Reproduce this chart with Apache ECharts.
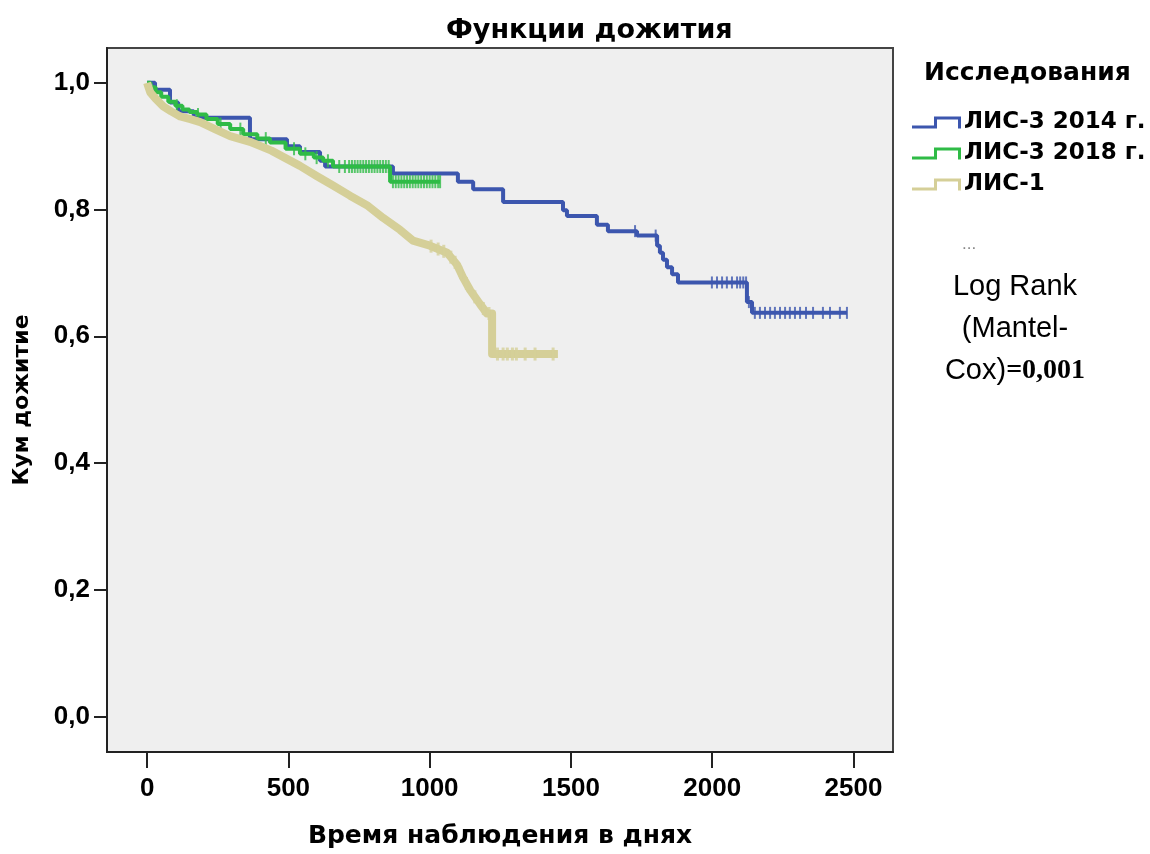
<!DOCTYPE html>
<html>
<head>
<meta charset="utf-8">
<script src="https://cdn.jsdelivr.net/npm/echarts@6/dist/echarts.min.js"></script>
<style>
  html, body { margin: 0; padding: 0; background: #fff; }
  #chart { width: 1150px; height: 854px; }
</style>
</head>
<body>
<div id="chart"></div>
<script>
    // Функции дожития (Каплан-Мейер)
    var xTicks = [0, 500, 1000, 1500, 2000, 2500];
    var yTicks = [0, 0.2, 0.4, 0.6, 0.8, 1.0];

    // ЛИС-3 2014 г. - ступени (день, доля)
    var blueT = [0, 28, 81, 110, 165, 364, 495, 541, 612, 630, 870, 1100, 1154, 1260, 1472, 1486, 1592, 1631, 1734, 1805, 1815, 1826, 1840, 1858, 1879, 2123, 2141, 2477];
    var blueS = [1.0, 0.989, 0.969, 0.955, 0.945, 0.911, 0.900, 0.891, 0.877, 0.868, 0.857, 0.844, 0.832, 0.812, 0.799, 0.790, 0.776, 0.766, 0.759, 0.743, 0.732, 0.721, 0.709, 0.698, 0.685, 0.654, 0.637, 0.637];
    var blueCens = [1727, 1800, 1999, 2017, 2035, 2052, 2070, 2088, 2099, 2110, 2120, 2130, 2151, 2169, 2187, 2205, 2222, 2240, 2258, 2275, 2293, 2311, 2332, 2357, 2392, 2417, 2452, 2477];

    // ЛИС-3 2018 г.
    var greenT = [0, 12, 30, 50, 75, 100, 125, 150, 177, 210, 250, 294, 340, 390, 435, 490, 541, 590, 623, 658, 860, 1037];
    var greenS = [1.0, 0.993, 0.985, 0.978, 0.970, 0.964, 0.958, 0.954, 0.950, 0.943, 0.935, 0.927, 0.919, 0.912, 0.906, 0.896, 0.888, 0.882, 0.877, 0.868, 0.844, 0.844];
    var greenCens = [105, 180, 260, 330, 420, 520, 560, 600, 640, 680, 700, 715, 725, 735, 745, 755, 765, 775, 785, 795, 805, 815, 825, 835, 845, 855, 870, 880, 890, 900, 910, 920, 930, 940, 950, 960, 970, 980, 990, 1000, 1010, 1020, 1030, 1037];

    // ЛИС-1 (очень частые ступени - ведём по точкам)
    var tanT = [0, 5, 11, 30, 57, 85, 117, 150, 188, 240, 294, 364, 440, 541, 600, 658, 718, 778, 835, 895, 941, 1001, 1062, 1097, 1118, 1143, 1178, 1203, 1221, 1221, 1454];
    var tanS = [1.0, 0.993, 0.985, 0.975, 0.963, 0.955, 0.947, 0.943, 0.938, 0.927, 0.916, 0.907, 0.893, 0.869, 0.853, 0.838, 0.822, 0.807, 0.787, 0.768, 0.751, 0.743, 0.732, 0.713, 0.693, 0.673, 0.651, 0.636, 0.636, 0.572, 0.572];
    var tanCens = [1005, 1030, 1050, 1075, 1090, 1110, 1130, 1160, 1190, 1210, 1240, 1260, 1275, 1293, 1307, 1338, 1373, 1437];

    var names = ['ЛИС-3 2014 г.', 'ЛИС-3 2018 г.', 'ЛИС-1'];
    var colors = ['#3c56ae', '#2fbb46', '#d5cf98'];

    function pairs(t, s) {
        var out = [];
        for (var i = 0; i < t.length; i++) out.push([t[i], s[i]]);
        return out;
    }
    // значение ступенчатой функции в момент цензуры
    function stepAt(t, s, x) {
        var v = s[0];
        for (var i = 0; i < t.length; i++) { if (t[i] <= x) v = s[i]; }
        return v;
    }
    function lineAt(t, s, x) {
        for (var i = 1; i < t.length; i++) {
            if (x <= t[i] && t[i] > t[i - 1]) {
                var k = (x - t[i - 1]) / (t[i] - t[i - 1]);
                return s[i - 1] + k * (s[i] - s[i - 1]);
            }
        }
        return s[s.length - 1];
    }
    function cens(t, s, c, fn) {
        var out = [];
        for (var i = 0; i < c.length; i++) out.push([c[i], fn(t, s, c[i])]);
        return out;
    }

    var font = "'Liberation Sans', Arial, sans-serif";
    var wide = "'DejaVu Sans', 'Liberation Sans', sans-serif";
    var stepIcon = 'path://M0,9 L22,9 L22,0 L49,0 L49,12 L46,12 L46,3 L25,3 L25,12 L0,12 Z';

    var myChart = echarts.init(document.getElementById('chart'));
    var option = {
        backgroundColor: '#fff',
        animation: false,
        title: {
            text: 'Функции дожития',
            left: 441,
            top: 12,
            textStyle: { fontFamily: wide, fontSize: 27, fontWeight: 'bold', color: '#000' }
        },
        legend: {
            orient: 'vertical',
            left: 907,
            top: 106,
            itemWidth: 49,
            itemHeight: 12,
            itemGap: 8,
            icon: stepIcon,
            data: names,
            textStyle: { fontFamily: wide, fontSize: 23, fontWeight: 'bold', color: '#000', padding: [0, 0, 0, -2] }
        },
        grid: {
            left: 107, right: 257, top: 48, bottom: 93,
            show: true,
            backgroundColor: '#efefef',
            borderColor: '#444',
            borderWidth: 2
        },
        xAxis: {
            type: 'value',
            min: -142,
            max: 2640,
            name: 'Время наблюдения в днях',
            nameLocation: 'middle',
            nameGap: 72,
            nameTextStyle: { fontFamily: wide, fontSize: 25, fontWeight: 'bold', color: '#000' },
            axisLine: { onZero: false, lineStyle: { color: '#222', width: 2 } },
            axisTick: { customValues: xTicks, length: 16, lineStyle: { color: '#222', width: 2 } },
            axisLabel: {
                customValues: xTicks, margin: 24,
                fontFamily: font, fontSize: 26, fontWeight: 'bold', color: '#000',
                formatter: function (v) { return String(v); }
            },
            splitLine: { show: false }
        },
        yAxis: {
            type: 'value',
            min: -0.056,
            max: 1.055,
            name: 'Кум дожитие',
            nameLocation: 'middle',
            nameGap: 74,
            nameTextStyle: { fontFamily: wide, fontSize: 22, fontWeight: 'bold', color: '#000' },
            axisLine: { onZero: false, lineStyle: { color: '#222', width: 2 } },
            axisTick: { customValues: yTicks, length: 13, lineStyle: { color: '#222', width: 2 } },
            axisLabel: {
                customValues: yTicks, margin: 17,
                fontFamily: font, fontSize: 26, fontWeight: 'bold', color: '#000',
                formatter: function (v) { return v.toFixed(1).replace('.', ','); }
            },
            splitLine: { show: false }
        },
        series: [
            {
                name: names[0], type: 'line', step: 'end', showSymbol: false,
                data: pairs(blueT, blueS), color: colors[0],
                lineStyle: { width: 4, color: colors[0] }, z: 2
            },
            {
                name: names[0], type: 'scatter', symbol: 'rect', symbolSize: [2, 12],
                data: cens(blueT, blueS, blueCens, stepAt),
                itemStyle: { color: colors[0] }, z: 2
            },
            {
                name: names[1], type: 'line', step: 'end', showSymbol: false,
                data: pairs(greenT, greenS), color: colors[1],
                lineStyle: { width: 4, color: colors[1] }, z: 3
            },
            {
                name: names[1], type: 'scatter', symbol: 'rect', symbolSize: [2, 13],
                data: cens(greenT, greenS, greenCens, stepAt),
                itemStyle: { color: colors[1] }, z: 3
            },
            {
                name: names[2], type: 'line', showSymbol: false,
                data: pairs(tanT, tanS), color: colors[2],
                lineStyle: { width: 8, color: colors[2], join: 'round' }, z: 4
            },
            {
                name: names[2], type: 'scatter', symbol: 'rect', symbolSize: [3, 13],
                data: cens(tanT, tanS, tanCens, lineAt),
                itemStyle: { color: colors[2] }, z: 4
            }
        ],
        graphic: [
            {
                type: 'text', left: 924, top: 61,
                style: { text: 'Исследования', font: 'bold 25px ' + wide, fill: '#000' }
            },
            {
                type: 'text', left: 962, top: 236,
                style: { text: '...', font: '17px ' + font, fill: '#888' }
            },
            {
                type: 'text', x: 1015, y: 266,
                style: {
                    text: 'Log Rank\n(Mantel-\nCox){b|=0,001}',
                    font: '29px ' + font, fill: '#000', align: 'center', verticalAlign: 'top', lineHeight: 42,
                    rich: { b: { fontFamily: "'Liberation Serif', 'Times New Roman', serif", fontWeight: 'bold', fontSize: 28, lineHeight: 42 } }
                }
            }
        ]
    };
    myChart.setOption(option);
</script>
</body>
</html>
